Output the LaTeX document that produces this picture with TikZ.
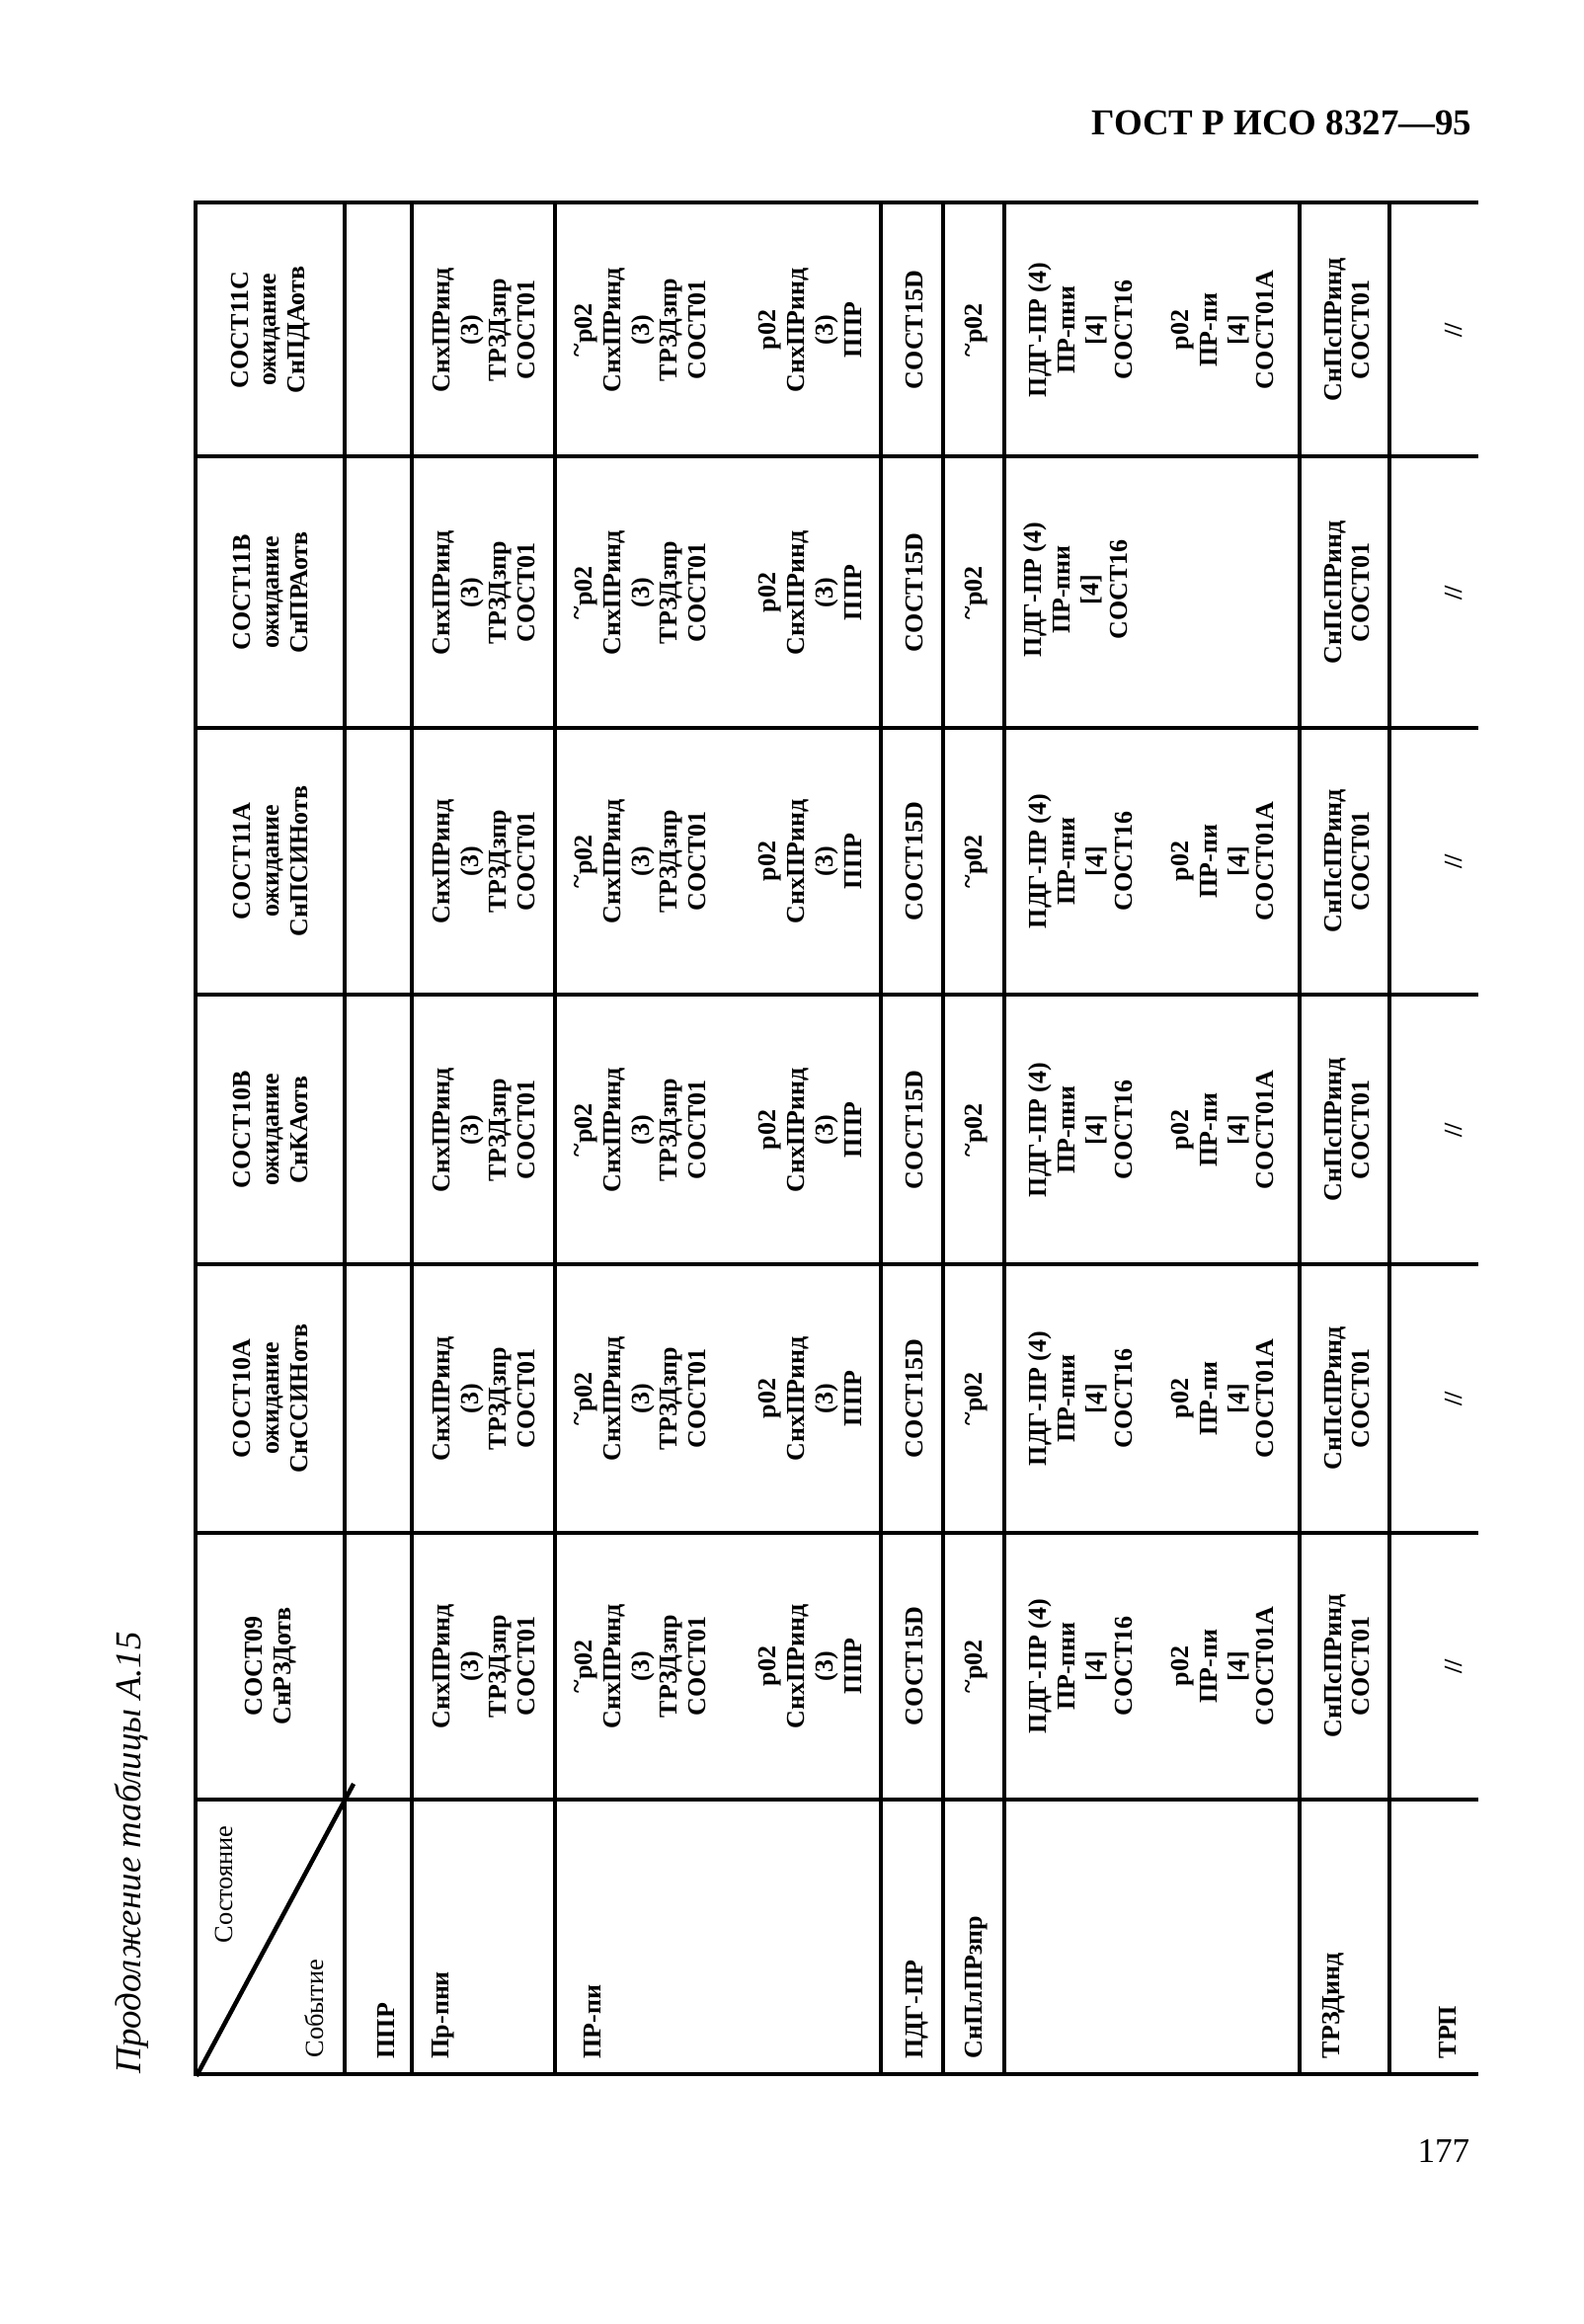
\documentclass[tikz,border=0pt]{standalone}
\usepackage{fontspec}
\setmainfont{Liberation Serif}
\usepackage{tikz}
\usetikzlibrary{positioning,calc}

\begin{document}
\begin{tikzpicture}[x=0.1mm, y=-0.1mm,
    rule/.style={line width=0.45mm, line cap=rect},
    cell/.style={rotate=90, align=center, inner sep=0pt, font=\fontsize{7.4}{8.2}\selectfont\bfseries},
    event/.style={rotate=90, anchor=base west, inner sep=0pt, font=\fontsize{7.4}{8.2}\selectfont\bfseries},
    corner/.style={rotate=90, anchor=base west, inner sep=0pt, font=\fontsize{7.5}{8.2}\selectfont}
]
    \useasboundingbox (0,0) rectangle (1603,2353);

    % page head, caption and number
    \node[anchor=base east, inner sep=0pt, font=\fontsize{10.5}{12}\selectfont\bfseries] (gost) at (1491,136) {ГОСТ Р ИСО 8327—95};
    \node[rotate=90, anchor=base west, inner sep=0pt, font=\fontsize{10.5}{12}\selectfont\itshape] (caption) at (142,2100) {Продолжение таблицы А.15};
    \node[anchor=base east, inner sep=0pt, font=\fontsize{10}{12}\selectfont] (pagenum) at (1489,2189) {177};

    % grid
    \draw[rule] (1495,205) -- (198,205) -- (198,2100) -- (1495,2100);
    \draw[rule] (198,462) -- (1495,462);
    \draw[rule] (198,737) -- (1495,737);
    \draw[rule] (198,1007) -- (1495,1007);
    \draw[rule] (198,1280) -- (1495,1280);
    \draw[rule] (198,1552) -- (1495,1552);
    \draw[rule] (198,1822) -- (1495,1822);
    \draw[rule] (349,205) -- (349,2100);
    \draw[rule] (417,205) -- (417,2100);
    \draw[rule] (562,205) -- (562,2100);
    \draw[rule] (892,205) -- (892,2100);
    \draw[rule] (955,205) -- (955,2100);
    \draw[rule] (1017,205) -- (1017,2100);
    \draw[rule] (1316,205) -- (1316,2100);
    \draw[rule] (1407,205) -- (1407,2100);
    \draw[rule] (200,2100) -- (357,1808);

    % corner cell
    \node[corner] (state) at (235,1968) {Состояние};
    \node[corner] (event) at (327,2084) {Событие};

    % states
    \node[cell] (s11c) at (274,334) {СОСТ11С\\ожидание\\СнПДАотв};
    \node[cell] (s11b) at (274,600) {СОСТ11В\\ожидание\\СнПРАотв};
    \node[cell] (s11a) at (274,872) {СОСТ11А\\ожидание\\СнПСИНотв};
    \node[cell] (s10b) at (274,1144) {СОСТ10В\\ожидание\\СнКАотв};
    \node[cell] (s10a) at (274,1416) {СОСТ10А\\ожидание\\СнССИНотв};
    \node[cell] (s09) at (274,1687) {СОСТ09\\СнРЗДотв};

    % events
    \node[event] (ppr) at (399,2085) {ППР};
    \node[event] (prpni) at (454,2085) {Пр-пни};
    \node[event] (prpi) at (608,2085) {ПР-пи};
    \node[event] (pdgpr) at (934,2085) {ПДГ-ПР};
    \node[event] (snplpr) at (994,2085) {СнПлПРзпр};
    \node[event] (trzd) at (1356,2085) {ТРЗДинд};
    \node[event] (trp) at (1474,2085) {ТРП};

    % Пр-пни
    \node[cell] (prpni-11c) at (490,334) {СнхПРинд\\(3)\\ТРЗДзпр\\СОСТ01};
    \node[cell] (prpni-11b) at (490,600) {СнхПРинд\\(3)\\ТРЗДзпр\\СОСТ01};
    \node[cell] (prpni-11a) at (490,872) {СнхПРинд\\(3)\\ТРЗДзпр\\СОСТ01};
    \node[cell] (prpni-10b) at (490,1144) {СнхПРинд\\(3)\\ТРЗДзпр\\СОСТ01};
    \node[cell] (prpni-10a) at (490,1416) {СнхПРинд\\(3)\\ТРЗДзпр\\СОСТ01};
    \node[cell] (prpni-09) at (490,1687) {СнхПРинд\\(3)\\ТРЗДзпр\\СОСТ01};

    % ПР-пи
    \node[cell] (prpi-11c) at (727,334) {\raisebox{.25em}{\textasciitilde}р02\\СнхПРинд\\(3)\\ТРЗДзпр\\СОСТ01\\[12pt]р02\\СнхПРинд\\(3)\\ППР};
    \node[cell] (prpi-11b) at (727,600) {\raisebox{.25em}{\textasciitilde}р02\\СнхПРинд\\(3)\\ТРЗДзпр\\СОСТ01\\[12pt]р02\\СнхПРинд\\(3)\\ППР};
    \node[cell] (prpi-11a) at (727,872) {\raisebox{.25em}{\textasciitilde}р02\\СнхПРинд\\(3)\\ТРЗДзпр\\СОСТ01\\[12pt]р02\\СнхПРинд\\(3)\\ППР};
    \node[cell] (prpi-10b) at (727,1144) {\raisebox{.25em}{\textasciitilde}р02\\СнхПРинд\\(3)\\ТРЗДзпр\\СОСТ01\\[12pt]р02\\СнхПРинд\\(3)\\ППР};
    \node[cell] (prpi-10a) at (727,1416) {\raisebox{.25em}{\textasciitilde}р02\\СнхПРинд\\(3)\\ТРЗДзпр\\СОСТ01\\[12pt]р02\\СнхПРинд\\(3)\\ППР};
    \node[cell] (prpi-09) at (727,1687) {\raisebox{.25em}{\textasciitilde}р02\\СнхПРинд\\(3)\\ТРЗДзпр\\СОСТ01\\[12pt]р02\\СнхПРинд\\(3)\\ППР};

    % ПДГ-ПР
    \node[cell] (pdgpr-11c) at (926,334) {СОСТ15D};
    \node[cell] (pdgpr-11b) at (926,600) {СОСТ15D};
    \node[cell] (pdgpr-11a) at (926,872) {СОСТ15D};
    \node[cell] (pdgpr-10b) at (926,1144) {СОСТ15D};
    \node[cell] (pdgpr-10a) at (926,1416) {СОСТ15D};
    \node[cell] (pdgpr-09) at (926,1687) {СОСТ15D};

    % СнПлПРзпр
    \node[cell] (snplpr-11c) at (989,334) {\raisebox{.25em}{\textasciitilde}р02};
    \node[cell] (snplpr-11b) at (989,600) {\raisebox{.25em}{\textasciitilde}р02};
    \node[cell] (snplpr-11a) at (989,872) {\raisebox{.25em}{\textasciitilde}р02};
    \node[cell] (snplpr-10b) at (989,1144) {\raisebox{.25em}{\textasciitilde}р02};
    \node[cell] (snplpr-10a) at (989,1416) {\raisebox{.25em}{\textasciitilde}р02};
    \node[cell] (snplpr-09) at (989,1687) {\raisebox{.25em}{\textasciitilde}р02};

    % event without a name
    \node[cell] (nn-11c) at (1166,334) {ПДГ-ПР (4)\\ПР-пни\\{[4]}\\СОСТ16\\[8pt]р02\\ПР-пи\\{[4]}\\СОСТ01А};
    \node[cell] (nn-11b) at (1089,597) {ПДГ-ПР (4)\\ПР-пни\\{[4]}\\СОСТ16};
    \node[cell] (nn-11a) at (1166,872) {ПДГ-ПР (4)\\ПР-пни\\{[4]}\\СОСТ16\\[8pt]р02\\ПР-пи\\{[4]}\\СОСТ01А};
    \node[cell] (nn-10b) at (1166,1144) {ПДГ-ПР (4)\\ПР-пни\\{[4]}\\СОСТ16\\[8pt]р02\\ПР-пи\\{[4]}\\СОСТ01А};
    \node[cell] (nn-10a) at (1166,1416) {ПДГ-ПР (4)\\ПР-пни\\{[4]}\\СОСТ16\\[8pt]р02\\ПР-пи\\{[4]}\\СОСТ01А};
    \node[cell] (nn-09) at (1166,1687) {ПДГ-ПР (4)\\ПР-пни\\{[4]}\\СОСТ16\\[8pt]р02\\ПР-пи\\{[4]}\\СОСТ01А};

    % ТРЗДинд
    \node[cell] (trzd-11c) at (1364,334) {СнПсПРинд\\СОСТ01};
    \node[cell] (trzd-11b) at (1364,600) {СнПсПРинд\\СОСТ01};
    \node[cell] (trzd-11a) at (1364,872) {СнПсПРинд\\СОСТ01};
    \node[cell] (trzd-10b) at (1364,1144) {СнПсПРинд\\СОСТ01};
    \node[cell] (trzd-10a) at (1364,1416) {СнПсПРинд\\СОСТ01};
    \node[cell] (trzd-09) at (1364,1687) {СнПсПРинд\\СОСТ01};

    % ТРП
    \node[cell] (trp-11c) at (1472,334) {//};
    \node[cell] (trp-11b) at (1472,600) {//};
    \node[cell] (trp-11a) at (1472,872) {//};
    \node[cell] (trp-10b) at (1472,1144) {//};
    \node[cell] (trp-10a) at (1472,1416) {//};
    \node[cell] (trp-09) at (1472,1687) {//};
\end{tikzpicture}
\end{document}
